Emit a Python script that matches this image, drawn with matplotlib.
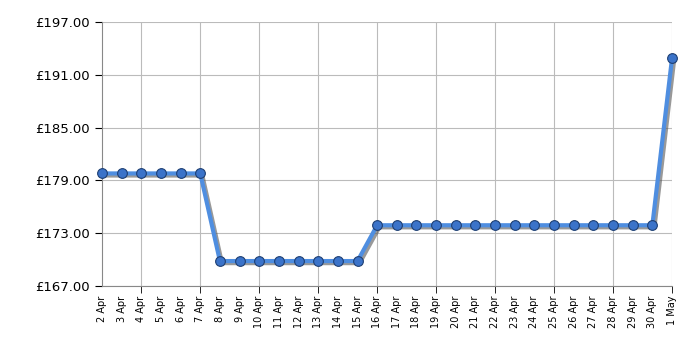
import matplotlib
matplotlib.use("Agg")
import matplotlib.pyplot as plt
import matplotlib.patheffects as pe
import numpy as np

dates = ["2 Apr", "3 Apr", "4 Apr", "5 Apr", "6 Apr", "7 Apr", "8 Apr", "9 Apr",
         "10 Apr", "11 Apr", "12 Apr", "13 Apr", "14 Apr", "15 Apr", "16 Apr",
         "17 Apr", "18 Apr", "19 Apr", "20 Apr", "21 Apr", "22 Apr", "23 Apr",
         "24 Apr", "25 Apr", "26 Apr", "27 Apr", "28 Apr", "29 Apr", "30 Apr", "1 May"]
prices = [179.79] * 6 + [169.83] * 8 + [173.90] * 15 + [192.86]
y_ticks = [167, 173, 179, 185, 191, 197]

x = np.arange(len(dates))

fig = plt.figure(figsize=(7, 3.5), dpi=100)
ax = fig.add_axes([0.1457, 0.183, 0.8143, 0.754])

shadow = [pe.SimpleLineShadow(offset=(1.5, -1.5), shadow_color="#555555", alpha=0.6),
          pe.Normal()]
ax.plot(x, prices, color="#4f8ee0", linewidth=3, zorder=3, path_effects=shadow,
        clip_on=False)
ax.plot(x, prices, linestyle="none", marker="o", markersize=7,
        markerfacecolor="#3b73c9", markeredgecolor="#1e3f73", markeredgewidth=0.8,
        zorder=4, clip_on=False)

ax.set_xlim(0, len(dates) - 1)
ax.set_ylim(y_ticks[0], y_ticks[-1])
ax.set_yticks(y_ticks)
ax.set_yticklabels([f"£{v:.2f}" for v in y_ticks], fontsize=9.5)

# every day labelled, tick marks and grid only every third day
ax.xaxis.remove_overlapping_locs = False
ax.set_xticks(x)
ax.set_xticklabels(dates, rotation=90, fontsize=7)
ax.set_xticks(x[2::3], minor=True)
ax.tick_params(axis="x", which="major", length=0, pad=7)
ax.tick_params(axis="x", which="minor", length=5, color="black")
ax.tick_params(axis="y", length=5, color="black")

ax.grid(True, axis="x", which="minor", color="#bbbbbb", linewidth=0.8)
ax.grid(True, axis="y", which="major", color="#bbbbbb", linewidth=0.8)
for s in ["top", "right"]:
    ax.spines[s].set_visible(False)
for s in ["left", "bottom"]:
    ax.spines[s].set_color("#888888")

plt.savefig("out.png", dpi=100)
plt.close()
